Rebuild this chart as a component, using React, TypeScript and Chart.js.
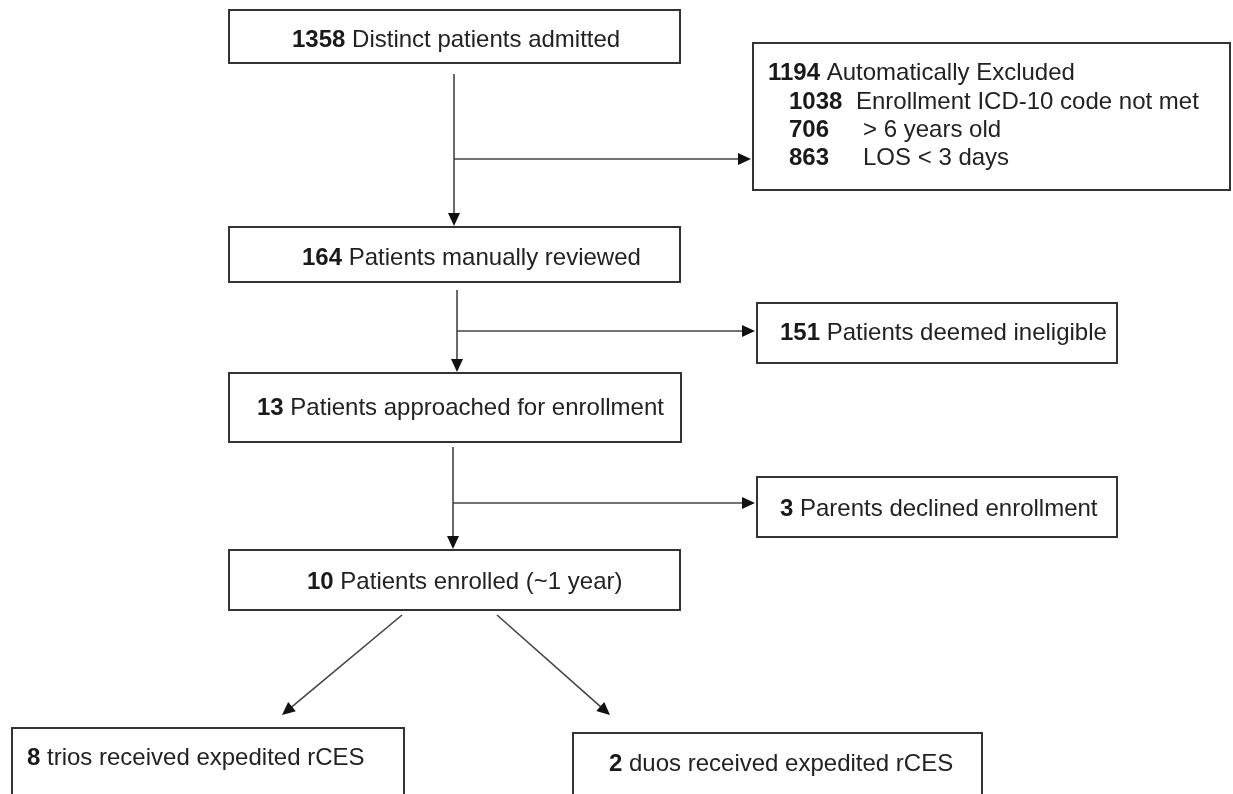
import React, { useEffect, useRef } from "react";
import { Chart, registerables } from "chart.js";

Chart.register(...registerables);

// ---- data ----
const mainCounts = [1358, 164, 13, 10];
const mainLabels = [
  "Distinct patients admitted",
  "Patients manually reviewed",
  "Patients approached for enrollment",
  "Patients enrolled (~1 year)",
];
const sideCounts = [1194, 151, 3];
const sideLabels = ["Automatically Excluded", "Patients deemed ineligible", "Parents declined enrollment"];
const exclusionCounts = [1038, 706, 863];
const exclusionLabels = ["Enrollment ICD-10 code not met", "> 6 years old", "LOS < 3 days"];
const outcomeCounts = [8, 2];
const outcomeLabels = ["trios received expedited rCES", "duos received expedited rCES"];

// ---- layout (page coordinates) ----
const mainBoxes = [
  { x0: 229, y0: 10, x1: 680, y1: 63, tx: 292, ty: 40 },
  { x0: 229, y0: 227, x1: 680, y1: 282, tx: 302, ty: 258 },
  { x0: 229, y0: 373, x1: 681, y1: 442, tx: 257, ty: 408 },
  { x0: 229, y0: 550, x1: 680, y1: 610, tx: 307, ty: 582 },
];
const sideBoxes = [
  { x0: 753, y0: 43, x1: 1230, y1: 190, tx: 768, ty: 73 },
  { x0: 757, y0: 303, x1: 1117, y1: 363, tx: 780, ty: 333 },
  { x0: 757, y0: 477, x1: 1117, y1: 537, tx: 780, ty: 509 },
];
const exclusionRows = { numX: 789, labelX: [856, 863, 863], y: [102, 130, 158] };
const outcomeBoxes = [
  { x0: 12, y0: 728, x1: 404, y1: 800, tx: 27, ty: 758 },
  { x0: 573, y0: 733, x1: 982, y1: 800, tx: 609, ty: 764 },
];
const downArrows = [
  { x: 454, y0: 74, y1: 226 },
  { x: 457, y0: 290, y1: 372 },
  { x: 453, y0: 447, y1: 549 },
];
const sideArrows = [
  { y: 159, x0: 454, x1: 751 },
  { y: 331, x0: 457, x1: 755 },
  { y: 503, x0: 453, x1: 755 },
];
const diagArrows = [
  { x0: 402, y0: 615, x1: 282, y1: 715 },
  { x0: 497, y0: 615, x1: 610, y1: 715 },
];

const FONT = "'Liberation Sans', Arial, sans-serif";
const FS = 24;

const flowPlugin = {
  id: "flow",
  afterDraw(chart: any) {
    const ctx = chart.ctx as CanvasRenderingContext2D;
    const sx = chart.scales.x;
    const sy = chart.scales.y;
    const X = (v: number) => sx.getPixelForValue(v);
    const Y = (v: number) => sy.getPixelForValue(v);

    ctx.save();
    const box = (b: any) => {
      ctx.strokeStyle = "#333";
      ctx.lineWidth = 2;
      ctx.strokeRect(X(b.x0), Y(b.y0), X(b.x1) - X(b.x0), Y(b.y1) - Y(b.y0));
    };
    const label = (x: number, y: number, num: number, text: string, gap = true) => {
      ctx.textBaseline = "middle";
      ctx.textAlign = "left";
      ctx.fillStyle = "#1a1a1a";
      ctx.font = `bold ${FS}px ${FONT}`;
      const s = String(num);
      ctx.fillText(s, X(x), Y(y));
      const w = ctx.measureText(s + (gap ? " " : "")).width;
      ctx.font = `${FS}px ${FONT}`;
      ctx.fillStyle = "#222";
      ctx.fillText(text, X(x) + w, Y(y));
    };
    const arrow = (x0: number, y0: number, x1: number, y1: number) => {
      const px0 = X(x0), py0 = Y(y0), px1 = X(x1), py1 = Y(y1);
      const ang = Math.atan2(py1 - py0, px1 - px0);
      const L = 13, W = 6;
      ctx.strokeStyle = "#444";
      ctx.lineWidth = 1.6;
      ctx.beginPath();
      ctx.moveTo(px0, py0);
      ctx.lineTo(px1 - Math.cos(ang) * L * 0.8, py1 - Math.sin(ang) * L * 0.8);
      ctx.stroke();
      ctx.fillStyle = "#111";
      ctx.beginPath();
      ctx.moveTo(px1, py1);
      ctx.lineTo(px1 - Math.cos(ang) * L - Math.sin(ang) * W, py1 - Math.sin(ang) * L + Math.cos(ang) * W);
      ctx.lineTo(px1 - Math.cos(ang) * L + Math.sin(ang) * W, py1 - Math.sin(ang) * L - Math.cos(ang) * W);
      ctx.closePath();
      ctx.fill();
    };

    mainBoxes.forEach((b, i) => {
      box(b);
      label(b.tx, b.ty, mainCounts[i], mainLabels[i]);
    });
    sideBoxes.forEach((b, i) => {
      box(b);
      label(b.tx, b.ty, sideCounts[i], sideLabels[i]);
    });
    exclusionCounts.forEach((n, i) => {
      ctx.textBaseline = "middle";
      ctx.textAlign = "left";
      ctx.font = `bold ${FS}px ${FONT}`;
      ctx.fillStyle = "#1a1a1a";
      ctx.fillText(String(n), X(exclusionRows.numX), Y(exclusionRows.y[i]));
      ctx.font = `${FS}px ${FONT}`;
      ctx.fillStyle = "#222";
      ctx.fillText(exclusionLabels[i], X(exclusionRows.labelX[i]), Y(exclusionRows.y[i]));
    });
    outcomeBoxes.forEach((b, i) => {
      box(b);
      label(b.tx, b.ty, outcomeCounts[i], outcomeLabels[i]);
    });
    downArrows.forEach((a) => arrow(a.x, a.y0, a.x, a.y1));
    sideArrows.forEach((a) => arrow(a.x0, a.y, a.x1, a.y));
    diagArrows.forEach((a) => arrow(a.x0, a.y0, a.x1, a.y1));
    ctx.restore();
  },
};

export default function App() {
  const ref = useRef<HTMLCanvasElement | null>(null);
  useEffect(() => {
    document.body.style.margin = "0";
    document.body.style.background = "#fff";
    if (!ref.current) return;
    const chart = new Chart(ref.current, {
      type: "scatter",
      data: { datasets: [{ data: [], pointRadius: 0 }] },
      options: {
        animation: false,
        responsive: false,
        events: [],
        layout: { padding: 0 },
        plugins: { legend: { display: false }, tooltip: { enabled: false }, title: { display: false } },
        scales: {
          x: { type: "linear", min: 0, max: 1233, display: false },
          y: { type: "linear", min: 0, max: 794, reverse: true, display: false },
        },
      },
      plugins: [flowPlugin],
    });
    return () => chart.destroy();
  }, []);
  return (
    <div style={{ width: 1233, height: 794, background: "#fff" }}>
      <canvas ref={ref} width={1233} height={794} style={{ display: "block" }} />
    </div>
  );
}
